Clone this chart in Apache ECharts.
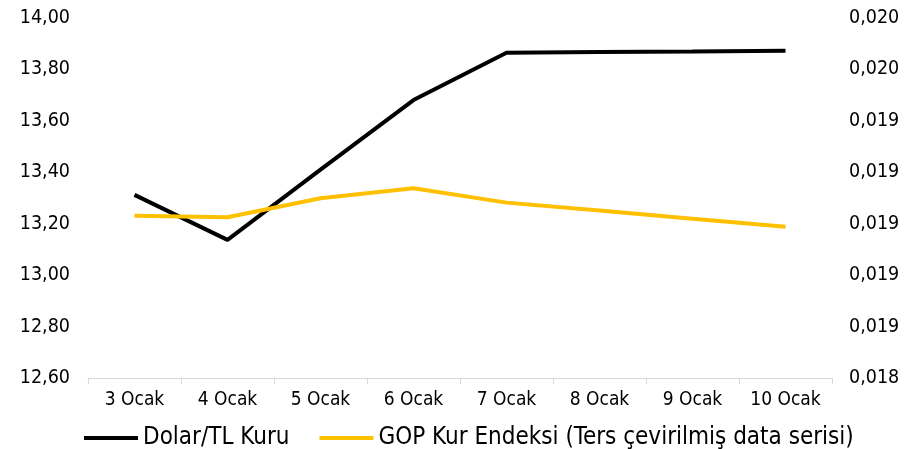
<!DOCTYPE html>
<html><head><meta charset="utf-8">
<script src="https://cdn.jsdelivr.net/npm/echarts@6/dist/echarts.min.js"></script>
<style>html,body{margin:0;padding:0;background:#fff}#c{width:918px;height:449px}</style>
</head><body><div id="c"></div>
<script>
const categories = ['3 Ocak','4 Ocak','5 Ocak','6 Ocak','7 Ocak','8 Ocak','9 Ocak','10 Ocak'];
const dolarTL = [13.312, 13.137, 13.41, 13.681, 13.865, 13.868, 13.870, 13.873];
const gopIndex = [0.019031, 0.019025, 0.019099, 0.019138, 0.019082, 0.019051, 0.019019, 0.018988];
const seriesNames = ['Dolar/TL Kuru', 'GOP Kur Endeksi (Ters çevirilmiş data serisi)'];

const FONT = 'DejaVu Sans Condensed';
const chart = echarts.init(document.getElementById('c'), null, {renderer:'canvas'});
chart.setOption({
  animation:false,
  textStyle:{fontFamily:FONT},
  grid:{left:88, right:86, top:18, bottom:71},
  legend:{
    left:79, top:421, itemWidth:54, itemHeight:4, itemGap:30,
    icon:'rect',
    textStyle:{fontFamily:FONT, fontSize:24, color:'#000'},
    data:seriesNames
  },
  xAxis:{
    type:'category', data:categories, boundaryGap:true,
    axisLine:{lineStyle:{color:'#d9d9d9', width:1}},
    axisTick:{show:true, length:6, lineStyle:{color:'#d9d9d9'}},
    axisLabel:{fontFamily:FONT, fontSize:19, color:'#000', margin:13}
  },
  yAxis:[{
    type:'value', min:12.6, max:14.0, interval:0.2,
    axisLine:{show:false}, axisTick:{show:false}, splitLine:{show:false},
    axisLabel:{fontFamily:FONT, fontSize:19.5, color:'#000', margin:18,
      formatter:v=>v.toFixed(2).replace('.',',')}
  },{
    type:'value', min:0.0184, max:0.0198, interval:0.0002,
    axisLine:{show:false}, axisTick:{show:false}, splitLine:{show:false},
    axisLabel:{fontFamily:FONT, fontSize:19.5, color:'#000', margin:17,
      formatter:v=>v.toFixed(3).replace('.',',')}
  }],
  series:[{
    name:seriesNames[0], type:'line', yAxisIndex:0, data:dolarTL,
    symbol:'none', lineStyle:{color:'#000', width:4}, itemStyle:{color:'#000'}
  },{
    name:seriesNames[1], type:'line', yAxisIndex:1, data:gopIndex,
    symbol:'none', lineStyle:{color:'#FFC000', width:4}, itemStyle:{color:'#FFC000'}
  }]
});
</script></body></html>
